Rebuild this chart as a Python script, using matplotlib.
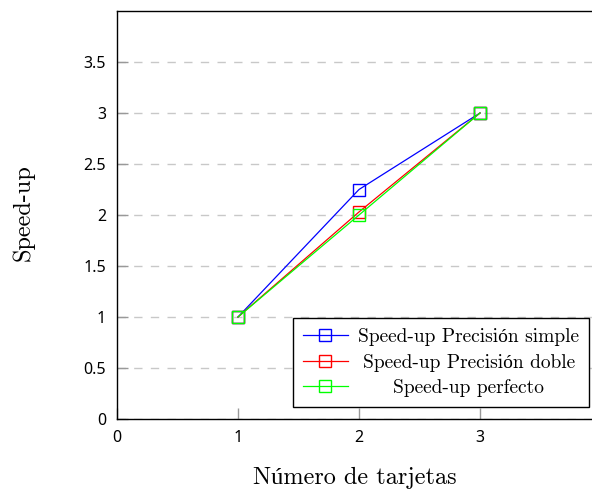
import matplotlib
matplotlib.use("Agg")
import matplotlib.pyplot as plt

# data
tarjetas = [1, 2, 3]
speedup_simple = [1.0, 2.25, 3.0]
speedup_doble = [1.0, 2.03, 3.0]
speedup_perfecto = [1.0, 2.0, 3.0]

x_ticks = [0, 1, 2, 3]
y_ticks = [0, 0.5, 1, 1.5, 2, 2.5, 3, 3.5]

serif = ['cmr10', 'Liberation Serif']
sans = ['Noto Sans', 'DejaVu Sans']


def main():
    fig = plt.figure(figsize=(5.92, 4.91), dpi=100)
    ax = fig.add_axes([117 / 592., 72 / 491., 4 * 121 / 592., 408 / 491.])

    ax.plot(tarjetas, speedup_simple, color='#0000ff', marker='s', ms=8,
            mfc='none', mew=1, lw=0.9, label=u'Speed-up Precisión simple')
    ax.plot(tarjetas, speedup_doble, color='#ff0000', marker='s', ms=8,
            mfc='none', mew=1, lw=0.9, label=u'Speed-up Precisión doble')
    ax.plot(tarjetas, speedup_perfecto, color='#00ff00', marker='s', ms=8,
            mfc='none', mew=1, lw=0.9, label=u'Speed-up perfecto')

    ax.set_xlim(0, 4)
    ax.set_ylim(0, 4)
    ax.set_xticks(x_ticks)
    ax.set_yticks(y_ticks)
    ax.set_xticklabels([str(v) for v in x_ticks], family=sans, fontsize=11.5)
    ax.set_yticklabels(['%g' % v for v in y_ticks], family=sans, fontsize=11.5)
    ax.tick_params(direction='in', length=8, color='#999999', width=1)
    ax.tick_params(axis='x', pad=8)
    ax.tick_params(axis='y', pad=8)
    ax.yaxis.grid(True, linestyle=(0, (6, 6)), color='#c8c8c8', lw=1)
    ax.set_axisbelow(True)
    for s in ax.spines.values():
        s.set_linewidth(1)

    ax.set_xlabel(u'Número de tarjetas', family=serif, fontsize=17.5)
    ax.set_ylabel('Speed-up', family=serif, fontsize=17.5)
    ax.xaxis.set_label_coords(0.492, -0.117)
    ax.yaxis.set_label_coords(-0.17, 0.505)

    leg = ax.legend(loc='lower right', bbox_to_anchor=(472 / 484., 12 / 408.),
                    borderaxespad=0, prop={'family': serif, 'size': 14},
                    fancybox=False, edgecolor='black', framealpha=1,
                    handlelength=2.3, handletextpad=0.55,
                    borderpad=0.5, labelspacing=0.4)
    leg.get_frame().set_linewidth(1)

    # pgfplots centres the legend entries, shift the shorter ones
    r = fig.canvas.get_renderer()
    widths = [t.get_window_extent(r).width for t in leg.get_texts()]
    for t, w in zip(leg.get_texts(), widths):
        t.set_x((max(widths) - w) / 2.)

    fig.savefig('out.png')


if __name__ == '__main__':
    main()
